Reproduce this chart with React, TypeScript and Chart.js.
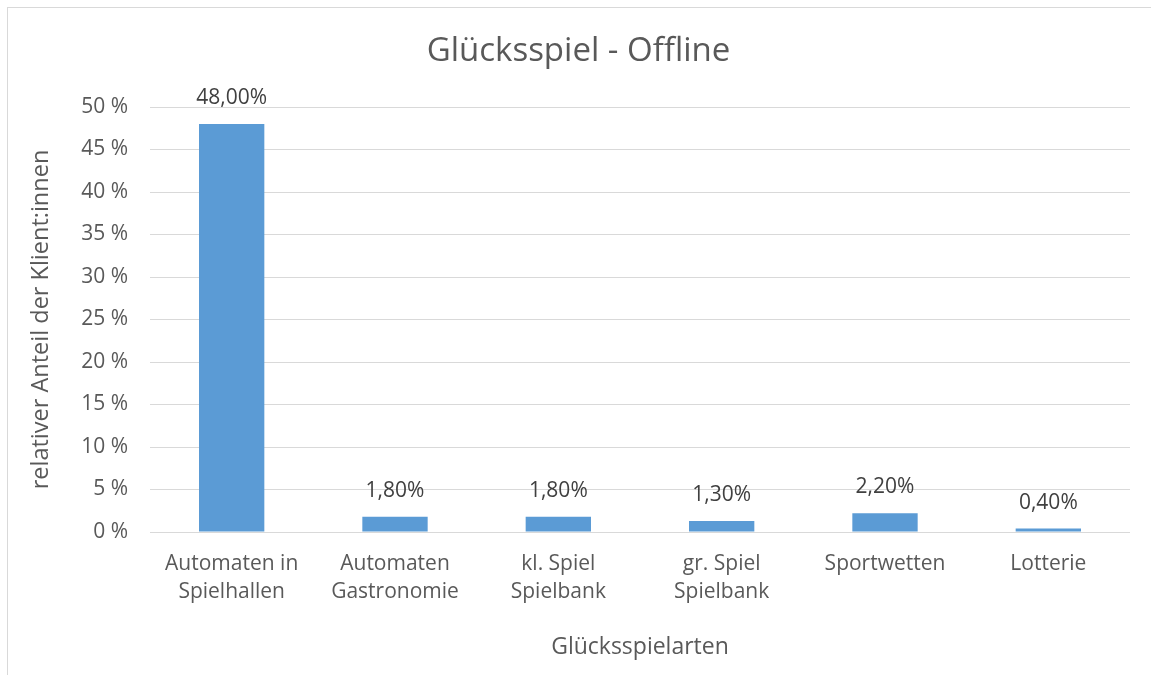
import { useEffect, useRef } from "react";
import { Chart, registerables } from "chart.js";

Chart.register(...registerables);

const categories: string[][] = [
  ["Automaten in", "Spielhallen"],
  ["Automaten", "Gastronomie"],
  ["kl. Spiel", "Spielbank"],
  ["gr. Spiel", "Spielbank"],
  ["Sportwetten"],
  ["Lotterie"],
];
const values: number[] = [48.0, 1.8, 1.8, 1.3, 2.2, 0.4];
const valueLabels: string[] = ["48,00%", "1,80%", "1,80%", "1,30%", "2,20%", "0,40%"];

const FONT = "'Open Sans', 'Noto Sans', sans-serif";
const TEXT = "#595959";

const dataLabelPlugin = {
  id: "dataLabels",
  afterDatasetsDraw(chart: any) {
    const ctx = chart.ctx;
    const meta = chart.getDatasetMeta(0);
    ctx.save();
    ctx.font = `21px ${FONT}`;
    ctx.fillStyle = "#404040";
    ctx.textAlign = "center";
    ctx.textBaseline = "middle";
    meta.data.forEach((bar: any, i: number) => {
      ctx.fillText(valueLabels[i], bar.x, bar.y - 26);
    });
    ctx.restore();
  },
};

export default function App() {
  const ref = useRef<HTMLCanvasElement | null>(null);
  useEffect(() => {
    if (!ref.current) return;
    const chart = new Chart(ref.current, {
      type: "bar",
      data: {
        labels: categories,
        datasets: [
          {
            data: values,
            backgroundColor: "#5B9BD5",
            categoryPercentage: 1,
            barPercentage: 0.4,
          },
        ],
      },
      options: {
        animation: false,
        responsive: false,
        maintainAspectRatio: false,
        layout: { padding: { left: 27, right: 21, top: 32, bottom: 14 } },
        plugins: {
          legend: { display: false },
          tooltip: { enabled: false },
          title: {
            display: true,
            text: "Glücksspiel - Offline",
            color: TEXT,
            font: { family: FONT, size: 33, weight: "normal" },
            padding: { top: 0, bottom: 35.4 },
          },
        },
        scales: {
          x: {
            grid: { display: false, drawTicks: false },
            border: { display: false },
            ticks: {
              color: TEXT,
              font: { family: FONT, size: 21, lineHeight: 1.33 },
              padding: 18,
              maxRotation: 0,
              autoSkip: false,
            },
            title: {
              display: true,
              text: "Glücksspielarten",
              color: TEXT,
              font: { family: FONT, size: 23 },
              padding: 0,
            },
            afterFit: (s: any) => {
              s.height = 129;
            },
          },
          y: {
            min: 0,
            max: 50,
            grid: { color: "#d9d9d9", drawTicks: false, lineWidth: 1 },
            border: { display: false },
            ticks: {
              stepSize: 5,
              color: TEXT,
              font: { family: FONT, size: 21 },
              padding: 22,
              callback: (v: any) => `${v} %`,
            },
            title: {
              display: true,
              text: "relativer Anteil der Klient:innen",
              color: TEXT,
              font: { family: FONT, size: 23.5 },
              padding: 0,
            },
            afterFit: (s: any) => {
              s.width = 123;
            },
          },
        },
      },
      plugins: [dataLabelPlugin],
    });
    return () => chart.destroy();
  }, []);

  return (
    <div>
      <div
        style={{
          position: "fixed",
          left: 7,
          top: 7,
          width: 1300,
          height: 800,
          border: "1px solid #d9d9d9",
          boxSizing: "border-box",
          background: "#fff",
        }}
      />
      <canvas
        ref={ref}
        width={1151}
        height={675}
        style={{ position: "fixed", left: 0, top: 0, width: 1151, height: 675 }}
      />
    </div>
  );
}
